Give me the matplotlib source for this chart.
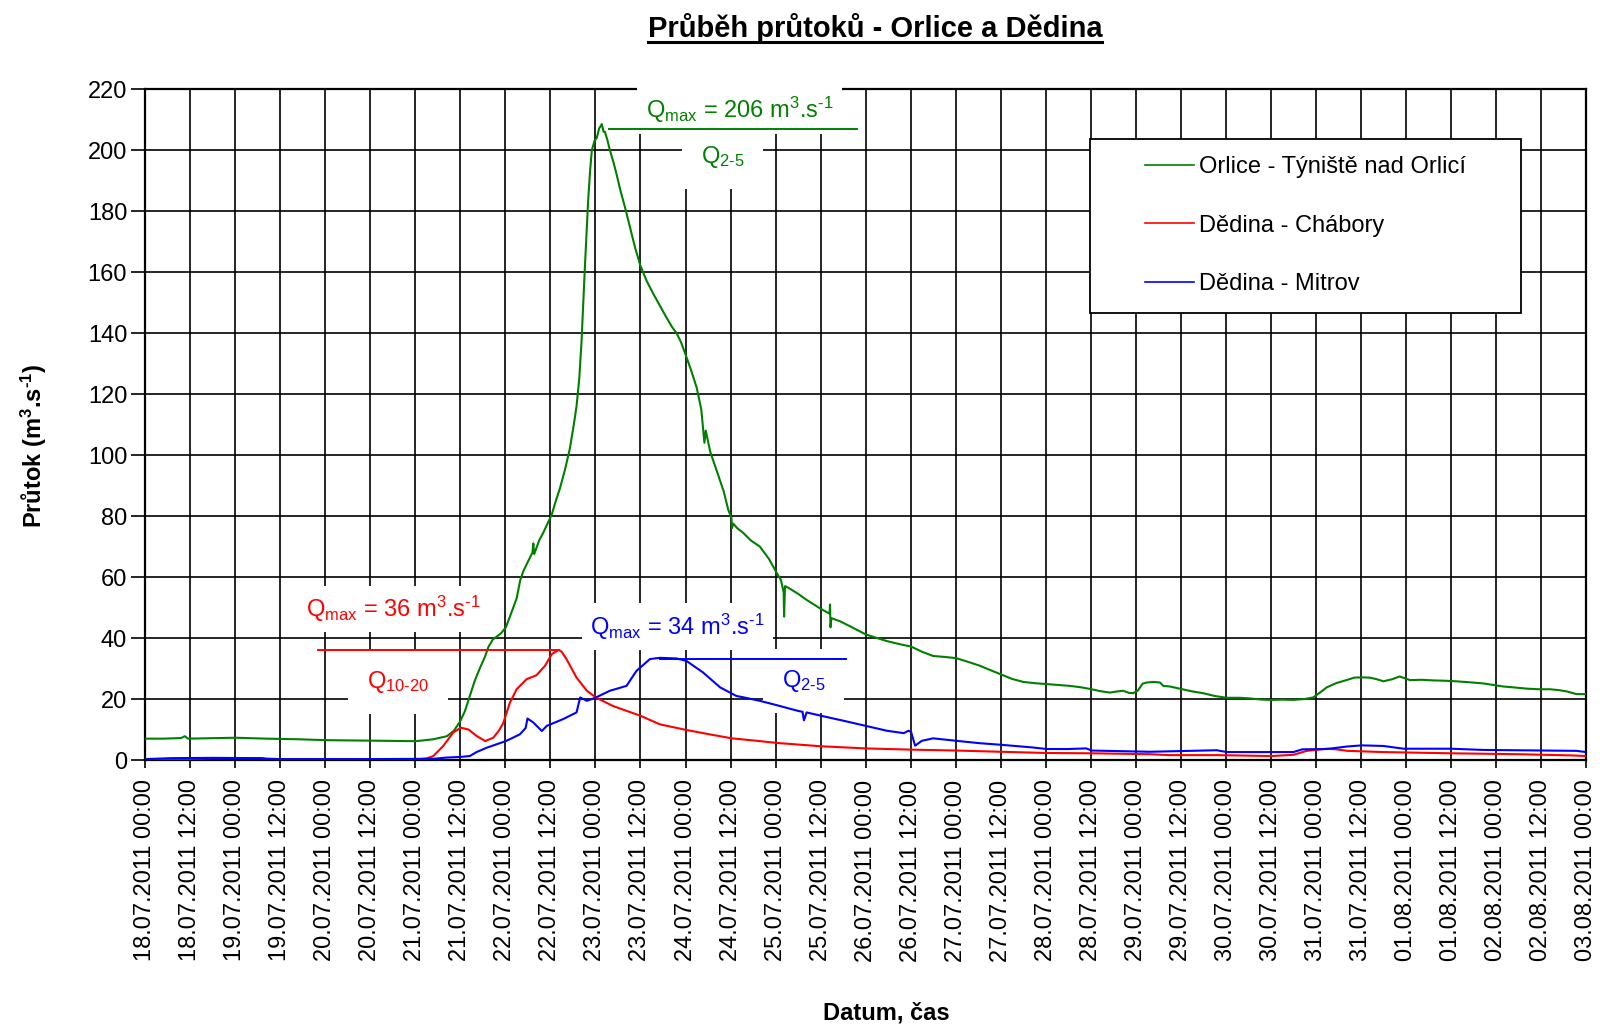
import numpy as np
import pandas as pd
import matplotlib
matplotlib.use('Agg')
import matplotlib.pyplot as plt
import matplotlib.dates as mdates
from matplotlib.patches import Rectangle
from matplotlib.lines import Line2D

plt.rcParams['font.family'] = ['Liberation Sans', 'DejaVu Sans']
plt.rcParams['mathtext.fontset'] = 'custom'
plt.rcParams['mathtext.rm'] = 'Liberation Sans'
plt.rcParams['mathtext.it'] = 'Liberation Sans:italic'
plt.rcParams['mathtext.bf'] = 'Liberation Sans:bold'

# time axis: days since 18.07.2011 00:00
start = pd.Timestamp('2011-07-18 00:00')
end = pd.Timestamp('2011-08-03 00:00')

# Orlice - Tyniste nad Orlici
orlice_days = [0.00, 0.20, 0.40, 0.44, 0.475, 0.65, 0.80, 1.00, 1.35, 1.70, 2.015, 2.40, 2.645, 2.90, 3.015,
               3.20, 3.35, 3.425, 3.495, 3.55, 3.605, 3.66, 3.715, 3.775, 3.81, 3.86, 3.905, 3.95, 4.005,
               4.05, 4.125, 4.165, 4.20, 4.25, 4.30, 4.31, 4.32, 4.375, 4.42, 4.475, 4.515, 4.56, 4.605,
               4.66, 4.715, 4.76, 4.79, 4.82, 4.845, 4.865, 4.885, 4.905, 4.92, 4.94, 4.96, 4.99, 5.015,
               5.04, 5.07, 5.09, 5.105, 5.135, 5.16, 5.20, 5.235, 5.275, 5.33, 5.385, 5.44, 5.50, 5.57,
               5.64, 5.715, 5.79, 5.85, 5.90, 5.95, 6.00, 6.06, 6.125, 6.175, 6.21, 6.225, 6.275, 6.345,
               6.425, 6.475, 6.51, 6.515, 6.53, 6.575, 6.64, 6.725, 6.825, 6.925, 7.01, 7.06, 7.09, 7.095,
               7.105, 7.14, 7.25, 7.345, 7.425, 7.505, 7.60, 7.605, 7.61, 7.62, 7.715, 7.85, 8.00, 8.125,
               8.235, 8.375, 8.505, 8.625, 8.75, 8.875, 9.005, 9.125, 9.27, 9.375, 9.50, 9.625, 9.75,
               9.875, 10.01, 10.15, 10.27, 10.40, 10.51, 10.60, 10.715, 10.775, 10.86, 10.925, 10.97,
               11.025, 11.075, 11.12, 11.20, 11.27, 11.305, 11.38, 11.515, 11.625, 11.75, 11.875, 12.01,
               12.15, 12.265, 12.40, 12.51, 12.625, 12.75, 12.875, 12.97, 13.05, 13.12, 13.225, 13.34,
               13.425, 13.51, 13.60, 13.675, 13.75, 13.85, 13.93, 14.045, 14.175, 14.30, 14.425, 14.56,
               14.70, 14.86, 14.975, 15.08, 15.20, 15.34, 15.475, 15.60, 15.70, 15.785, 15.895, 16.00]
orlice_q = [7.0, 7.0, 7.2, 7.8, 7.0, 7.1, 7.2, 7.3, 7.0, 6.8, 6.5, 6.4, 6.3, 6.2, 6.2,
            6.8, 7.8, 9.5, 12.5, 16, 21, 26, 30, 34, 37, 39.5, 40.5, 41.5, 43.5,
            47, 53, 59, 62, 65, 68, 71, 67.5, 72, 74.5, 78, 80.5, 85, 89,
            95, 102, 110, 116, 125, 137, 150, 163, 175, 184, 193, 200, 203, 204,
            207, 208.5, 206, 206, 203, 200, 196, 192, 187, 181, 174.5, 168, 162, 157,
            153, 149, 145, 142, 140, 137, 133, 128, 122, 115, 104, 108, 101, 95,
            88, 82, 79.5, 76, 77.5, 76, 74.5, 72, 70, 66, 61.5, 59, 55, 47,
            57, 56.5, 54.5, 52.5, 51, 49.5, 48, 51, 43.5, 46.5, 45.5, 43.5, 41.2, 40,
            39, 38, 37.2, 35.5, 34.1, 33.8, 33.4, 32.3, 30.9, 29.6, 28.1, 26.6, 25.6,
            25.2, 24.9, 24.6, 24.3, 23.8, 23.2, 22.6, 22.1, 22.4, 22.7, 22.0, 21.9,
            22.8, 25.0, 25.4, 25.6, 25.4, 24.3, 24.1, 23.2, 22.5, 21.9, 21.0, 20.4,
            20.4, 20.2, 19.8, 19.7, 19.8, 19.7, 20.0, 20.5, 22.2, 23.8, 25.2, 26.2,
            27.0, 27.1, 27.0, 26.5, 25.8, 26.5, 27.4, 26.2, 26.3, 26.1, 26.0, 25.8,
            25.5, 25.1, 24.6, 24.1, 23.8, 23.4, 23.2, 23.2, 22.9, 22.5, 21.6, 21.6]

# Dedina - Chabory
chabory_days = [0.00, 0.50, 0.75, 1.25, 1.50, 2.50, 3.05, 3.125, 3.20, 3.31, 3.42, 3.505, 3.59, 3.68,
                3.775, 3.865, 3.925, 3.975, 4.05, 4.125, 4.235, 4.345, 4.44, 4.515, 4.59, 4.625, 4.68,
                4.79, 4.905, 5.005, 5.195, 5.50, 5.715, 6.00, 6.27, 6.515, 6.825, 7.01, 7.505, 8.00,
                8.505, 9.005, 9.50, 10.01, 10.51, 11.155, 11.375, 11.90, 12.51, 12.75, 12.90, 13.00,
                13.12, 13.225, 13.35, 13.75, 14.50, 15.25, 15.85, 16.00]
chabory_q = [0.3, 0.4, 0.6, 0.6, 0.3, 0.3, 0.3, 0.5, 1.3, 4.6, 9.0, 10.6, 10.0, 7.9,
             6.2, 7.3, 9.5, 12.0, 18.8, 23.2, 26.5, 27.8, 30.9, 34.7, 36.1, 35.5, 33.0,
             27.0, 22.7, 20.5, 17.7, 14.5, 11.7, 9.9, 8.4, 7.1, 6.2, 5.6, 4.5, 3.8,
             3.4, 3.1, 2.7, 2.3, 2.2, 1.9, 1.6, 1.6, 1.3, 1.7, 3.0, 3.3,
             3.7, 3.5, 3.0, 2.6, 2.2, 1.9, 1.5, 1.3]

# Dedina - Mitrov
mitrov_days = [0.00, 0.30, 0.75, 1.30, 1.35, 2.50, 3.20, 3.35, 3.495, 3.605, 3.68, 3.79, 4.005, 4.16,
               4.225, 4.245, 4.31, 4.405, 4.46, 4.64, 4.79, 4.83, 4.905, 5.005, 5.16, 5.345, 5.455,
               5.605, 5.715, 5.90, 6.01, 6.195, 6.385, 6.565, 6.65, 6.825, 7.01, 7.25, 7.30, 7.315,
               7.345, 7.505, 7.75, 8.00, 8.235, 8.425, 8.475, 8.505, 8.55, 8.625, 8.75, 9.005, 9.27,
               9.50, 9.86, 10.01, 10.25, 10.45, 10.51, 11.155, 11.90, 12.01, 12.75, 12.85, 13.12,
               13.34, 13.51, 13.75, 13.975, 14.50, 14.86, 15.895, 16.00]
mitrov_q = [0.3, 0.6, 0.7, 0.6, 0.3, 0.3, 0.4, 0.8, 1.0, 1.3, 2.6, 4.0, 6.2, 8.4,
            10.5, 13.6, 12.3, 9.5, 11.2, 13.4, 15.6, 20.5, 19.4, 20.5, 22.7, 24.3, 29.2,
            33.1, 33.5, 33.3, 32.5, 28.7, 23.8, 21.0, 20.5, 19.4, 18.0, 16.1, 15.8, 13.0,
            15.6, 14.5, 12.9, 11.2, 9.6, 8.8, 9.6, 9.2, 4.7, 6.3, 7.1, 6.3, 5.5,
            5.0, 4.1, 3.6, 3.6, 3.8, 3.1, 2.7, 3.2, 2.6, 2.6, 3.5, 3.6,
            4.4, 4.8, 4.6, 3.7, 3.7, 3.3, 3.0, 2.6]

series_labels = ['Orlice - Týniště nad Orlicí', 'Dědina - Chábory', 'Dědina - Mitrov']
series_colors = ['#008000', '#FF0000', '#0000FF']

HY = '\u2010'  # real hyphen, mathtext would turn "-" into a spaced minus
# Qmax marks: (value, level, line start day, line end day, text day, text level, class text, class day, class level)
qmax_orlice = ('206', 207, 5.15, 7.9, 6.6, 213, 'Q$_{\\mathrm{2' + HY + '5}}$', 6.41, 197.7)
qmax_chabory = ('36', 36, 1.92, 4.59, 2.75, 49.5, 'Q$_{\\mathrm{10' + HY + '20}}$', 2.81, 25.6)
qmax_mitrov = ('34', 33, 5.72, 7.78, 5.91, 43.8, 'Q$_{\\mathrm{2' + HY + '5}}$', 7.31, 26)

fig = plt.figure(figsize=(16, 10.28), dpi=100)
ax = fig.add_axes([0.09075, 0.2607, 0.9005, 0.6527])

x0 = mdates.date2num(start.to_pydatetime())
handles = []
for days, q, lab, col in zip([orlice_days, chabory_days, mitrov_days],
                             [orlice_q, chabory_q, mitrov_q], series_labels, series_colors):
    h, = ax.plot(x0 + np.array(days), q, color=col, lw=1.5, label=lab, zorder=4)
    handles.append(h)

ax.xaxis_date()
ax.set_xlim(x0, mdates.date2num(end.to_pydatetime()))
ax.set_ylim(0, 220)
ax.set_yticks(np.arange(0, 221, 20))
ax.xaxis.set_major_locator(mdates.HourLocator(byhour=[0, 12]))
ax.xaxis.set_major_formatter(mdates.DateFormatter('%d.%m.%Y %H:%M'))
ax.grid(True, color='black', lw=1.2, zorder=1)
ax.set_axisbelow(True)
for s in ax.spines.values():
    s.set_linewidth(1.6)
ax.tick_params(axis='x', direction='out', length=6, width=1.2, pad=8, labelsize=17, labelrotation=90)
ax.tick_params(axis='y', direction='out', length=10, width=1.2, pad=3, labelsize=17)

for (val, lvl, d1, d2, dt, vt, cls, dc, vc), col in zip([qmax_orlice, qmax_chabory, qmax_mitrov], series_colors):
    ax.plot([x0 + d1, x0 + d2], [lvl, lvl], color=col, lw=1.4, zorder=4)
    ax.text(x0 + dt, vt, 'Q$_{\\mathrm{max}}$ = ' + val + ' m$^{3}$.s$^{' + HY + '1}$', color=col, fontsize=17,
            ha='center', va='center', zorder=3,
            bbox=dict(boxstyle='square,pad=0.35', fc='white', ec='none'))
    ax.text(x0 + dc, vc, cls, color=col, fontsize=17, ha='center', va='center', zorder=3,
            bbox=dict(boxstyle='square,pad=0.8', fc='white', ec='none'))

# legend box
fig.add_artist(Rectangle((1090 / 1600, 1 - 313 / 1028), 431 / 1600, 174 / 1028,
                         transform=fig.transFigure, fc='white', ec='black', lw=1.3, zorder=4))
leg = fig.legend(handles, series_labels, loc='center', bbox_to_anchor=(0.8159, 0.7805),
                 frameon=False, fontsize=17, handlelength=2.1, handletextpad=0.2, labelspacing=1.55)
leg.set_zorder(6)
for ln in leg.get_lines():
    ln.set_linewidth(1.2)

title = fig.text(875 / 1600, 1 - 28 / 1028, 'Průběh průtoků - Orlice a Dědina', ha='center', va='center',
                 fontsize=21, fontweight='bold')
fig.text(34 / 1600, 1 - 446 / 1028, 'Průtok (m$^{\\mathbf{3}}$.s$^{\\mathbf{' + HY + '1}}$)', rotation=90,
         ha='center', va='center', fontsize=17, fontweight='bold')
fig.text(886 / 1600, 1 - 1013 / 1028, 'Datum, čas', ha='center', va='center', fontsize=17, fontweight='bold')

fig.canvas.draw()
bb = title.get_window_extent()
fig.add_artist(Line2D([bb.x0 / 1600, bb.x1 / 1600], [1 - 42 / 1028, 1 - 42 / 1028],
                      transform=fig.transFigure, color='black', lw=2.2))

fig.savefig('out.png', dpi=100)
